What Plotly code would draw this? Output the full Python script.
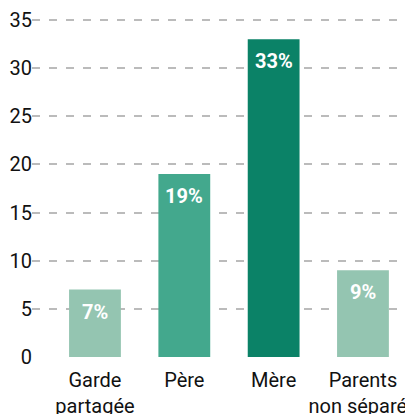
import plotly.graph_objects as go

categories = ["Garde<br>partagée", "Père", "Mère", "Parents<br>non séparés"]
values = [7, 19, 33, 9]
labels = ["7%", "19%", "33%", "9%"]
colors = ["#94C5B1", "#43A88D", "#0B8267", "#94C5B1"]
y_ticks = [0, 5, 10, 15, 20, 25, 30, 35]

fig = go.Figure()
fig.add_trace(go.Bar(
    x=list(range(len(categories))),
    y=values,
    marker=dict(color=colors, line=dict(width=0)),
    hoverinfo="skip",
))

for i, (v, t) in enumerate(zip(values, labels)):
    fig.add_annotation(
        x=i, y=v, text="<b>" + t + "</b>", showarrow=False,
        yanchor="middle", yshift=-22,
        font=dict(family="Roboto", size=20, color="white"),
    )

# the page adds an 8px body margin, so the figure margins are pulled in by 8px
fig.update_layout(
    width=413, height=414,
    margin=dict(l=24, r=8, t=9, b=65, autoexpand=False),
    paper_bgcolor="white", plot_bgcolor="white",
    bargap=0.42, showlegend=False,
    font=dict(family="Roboto", size=20, color="#111111"),
    xaxis=dict(
        range=[-0.705, 3.56],
        tickmode="array",
        tickvals=list(range(len(categories))),
        ticktext=categories,
        showgrid=False, zeroline=False, showline=False, ticks="",
        automargin=False, ticklabeloverflow="allow", ticklabelstandoff=9,
    ),
    yaxis=dict(
        range=[0, 35.3],
        tickmode="array", tickvals=y_ticks,
        showgrid=True, gridcolor="#BBBBBB", gridwidth=2, griddash="8px,9px",
        zeroline=False, showline=False, ticks="",
        ticklabelstandoff=-1, automargin=False, ticklabeloverflow="allow",
    ),
)

fig.write_html("out.html")
